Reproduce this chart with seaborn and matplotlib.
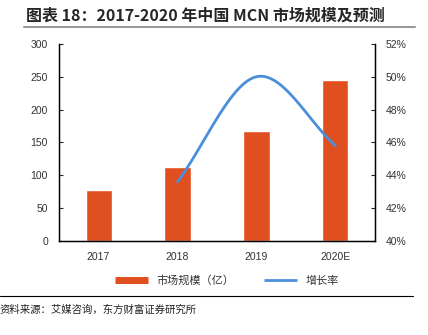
import numpy as np
import pandas as pd
import matplotlib
matplotlib.use("Agg")
import matplotlib.pyplot as plt
import seaborn as sns
from matplotlib.lines import Line2D

years = ["2017", "2018", "2019", "2020E"]
market_size = [78, 112, 168, 245]
growth_years = ["2018", "2019", "2020E"]
growth_rate = [43.6, 50.0, 45.8]

sns.set_style("white")
plt.rcParams['font.family'] = ['Liberation Sans', 'Noto Sans CJK SC', 'DejaVu Sans']
cjk = ['Noto Sans CJK SC', 'DejaVu Sans']

BAR = "#E04F1F"
LINE = "#4A8FDB"

fig = plt.figure(figsize=(4.28, 3.35), dpi=100)
ax = fig.add_axes([0.138, 0.281, 0.738, 0.588])

df = pd.DataFrame({"year": years, "size": market_size})
sns.barplot(data=df, x="year", y="size", color=BAR, width=0.33,
            saturation=1, ax=ax, legend=False)
ax.set_ylim(0, 300)
ax.set_yticks(range(0, 301, 50))
ax.set_xlabel("")
ax.set_ylabel("")
ax.spines["top"].set_visible(False)
for s in ["left", "bottom", "right"]:
    ax.spines[s].set_color("black")
    ax.spines[s].set_linewidth(1.0)
ax.tick_params(axis="y", direction="in", length=3, labelsize=7.5, labelcolor="#333333", pad=8)
ax.tick_params(axis="x", length=0, labelsize=7.5, labelcolor="#333333", pad=8)

ax2 = ax.twinx()
# smooth rendering (Catmull-Rom) through the data points
xs = np.array([years.index(y) for y in growth_years], dtype=float)
ys = np.array(growth_rate, dtype=float)
px = np.concatenate([[2 * xs[0] - xs[1]], xs, [2 * xs[-1] - xs[-2]]])
py = np.concatenate([[2 * ys[0] - ys[1]], ys, [2 * ys[-1] - ys[-2]]])
cx, cy = [], []
t = np.linspace(0, 1, 40)
for i in range(1, len(px) - 2):
    for arr, out in ((px, cx), (py, cy)):
        p0, p1, p2, p3 = arr[i - 1], arr[i], arr[i + 1], arr[i + 2]
        m1 = (p2 - p0) / 2
        m2 = (p3 - p1) / 2
        h00 = 2 * t**3 - 3 * t**2 + 1
        h10 = t**3 - 2 * t**2 + t
        h01 = -2 * t**3 + 3 * t**2
        h11 = t**3 - t**2
        out.extend(h00 * p1 + h10 * m1 + h01 * p2 + h11 * m2)
ax2.plot(cx, cy, color=LINE, lw=2)
ax2.set_ylim(40, 52)
ax2.set_yticks(range(40, 53, 2))
ax2.set_yticklabels([f"{v}%" for v in range(40, 53, 2)])
ax2.tick_params(axis="y", direction="in", length=3, labelsize=7.5, labelcolor="#333333", pad=8)
ax2.spines["top"].set_visible(False)
for s in ["left", "bottom", "right"]:
    ax2.spines[s].set_color("black")
ax.set_xlim(-0.5, 3.5)

handles = [Line2D([0], [0], color=BAR, lw=5, solid_capstyle="butt"),
           Line2D([0], [0], color=LINE, lw=2, solid_capstyle="butt")]
fig.legend(handles, ["市场规模（亿）", "增长率"], loc="center", bbox_to_anchor=(0.53, 0.163),
           ncol=2, frameon=False, prop={'family': cjk, 'size': 8}, handlelength=3.0,
           columnspacing=2.6, labelcolor="#333333")

fig.text(0.06, 0.955, "图表 18：2017-2020 年中国 MCN 市场规模及预测", fontsize=11.5,
         fontweight="bold", family=cjk, va="center", ha="left")
fig.add_artist(Line2D([0.055, 0.97], [0.92, 0.92], color="#999999", lw=1.5))
fig.add_artist(Line2D([0.0, 0.965], [0.115, 0.115], color="black", lw=0.8))
fig.text(0.0, 0.075, "资料来源：艾媒咨询，东方财富证券研究所", fontsize=7.5, family=cjk,
         va="center", ha="left", color="#222222")

fig.savefig("out.png", dpi=100)
